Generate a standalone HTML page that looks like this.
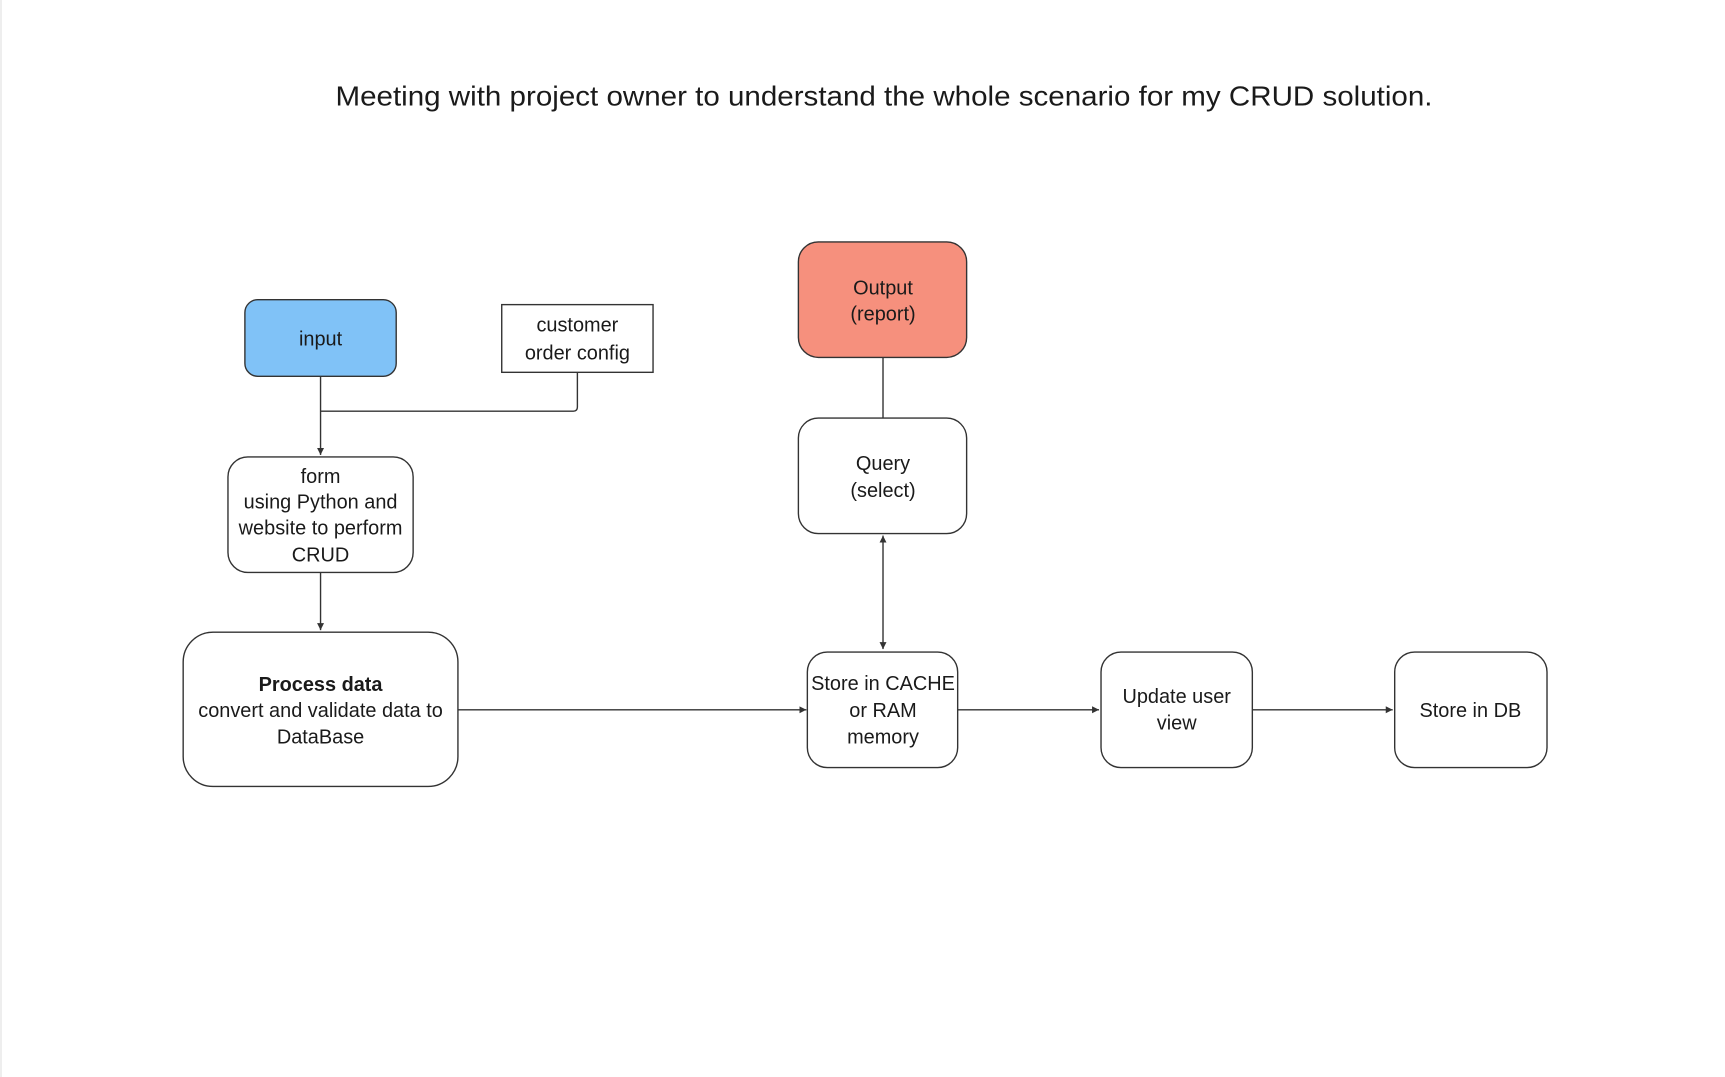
<!DOCTYPE html>
<html><head><meta charset="utf-8"><style>
html,body{margin:0;padding:0;background:#fff;}
svg{display:block;}
text{font-family:"Liberation Sans",sans-serif;fill:#1a1a1a;}
</style></head><body>
<svg width="1725" height="1077" viewBox="0 0 1725 1077" xmlns="http://www.w3.org/2000/svg">
<defs>
<marker id="a" markerWidth="8" markerHeight="8" refX="7" refY="4" orient="auto-start-reverse" markerUnits="userSpaceOnUse">
<path d="M0,0.5 L7,4 L0,7.5 Z" fill="#333"/></marker>
</defs>
<rect x="0" y="0" width="1725" height="1077" fill="#fff"/>
<line x1="1" y1="0" x2="1" y2="1077" stroke="#eee" stroke-width="2"/>
<g transform="scale(0.9955)">
<text x="888" y="106" font-size="28" text-anchor="middle" textLength="1102" lengthAdjust="spacingAndGlyphs">Meeting with project owner to understand the whole scenario for my CRUD solution.</text>

<g stroke="#333" stroke-width="1.4" fill="none">
<path d="M322,378 V457" marker-end="url(#a)"/>
<path d="M580,374 V409 Q580,413 576,413 H322"/>
<path d="M322,575 V633" marker-end="url(#a)"/>
<path d="M460,713 H810" marker-end="url(#a)"/>
<path d="M887,359 V420"/>
<path d="M887,538 V652" marker-start="url(#a)" marker-end="url(#a)"/>
<path d="M962,713 H1104" marker-end="url(#a)"/>
<path d="M1258,713 H1399" marker-end="url(#a)"/>
</g>

<g stroke="#333" stroke-width="1.4">
<rect x="246" y="301" width="152" height="77" rx="13" fill="#80c2f7"/>
<rect x="504" y="306" width="152" height="68" fill="#fff"/>
<rect x="229" y="459" width="186" height="116" rx="20" fill="#fff"/>
<rect x="184" y="635" width="276" height="155" rx="30" fill="#fff"/>
<rect x="802" y="243" width="169" height="116" rx="20" fill="#f6907d"/>
<rect x="802" y="420" width="169" height="116" rx="20" fill="#fff"/>
<rect x="811" y="655" width="151" height="116" rx="20" fill="#fff"/>
<rect x="1106" y="655" width="152" height="116" rx="20" fill="#fff"/>
<rect x="1401" y="655" width="153" height="116" rx="20" fill="#fff"/>
</g>

<g font-size="20" text-anchor="middle">
<text x="322" y="347">input</text>
<text x="580" y="333">customer</text>
<text x="580" y="361">order config</text>
<text x="322" y="485">form</text>
<text x="322" y="511">using Python and</text>
<text x="322" y="537">website to perform</text>
<text x="322" y="564">CRUD</text>
<text x="322" y="694" font-weight="bold">Process data</text>
<text x="322" y="720">convert and validate data to</text>
<text x="322" y="747">DataBase</text>
<text x="887" y="296">Output</text>
<text x="887" y="322">(report)</text>
<text x="887" y="472">Query</text>
<text x="887" y="499">(select)</text>
<text x="887" y="693">Store in CACHE</text>
<text x="887" y="720">or RAM</text>
<text x="887" y="747">memory</text>
<text x="1182" y="706">Update user</text>
<text x="1182" y="733">view</text>
<text x="1477" y="720">Store in DB</text>
</g>
</g>
</svg>
</body></html>
